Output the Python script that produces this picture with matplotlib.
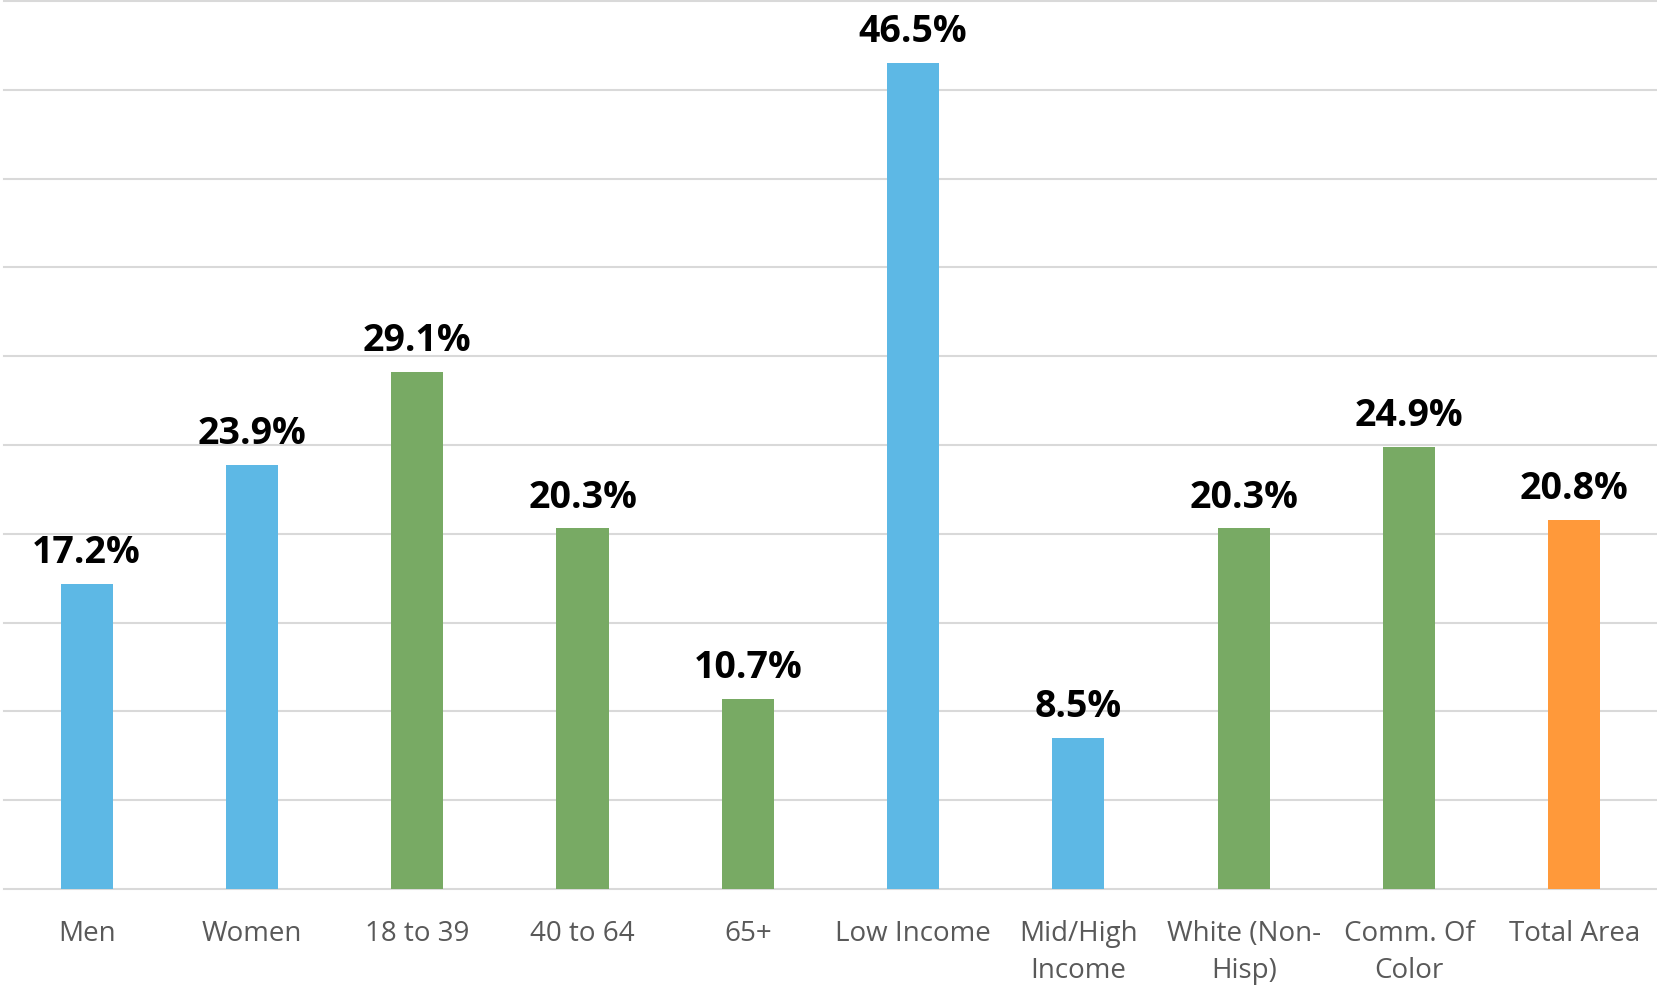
import matplotlib
matplotlib.use("Agg")
import matplotlib.pyplot as plt

plt.rcParams['font.family'] = ['Open Sans', 'DejaVu Sans']

categories = ['Men', 'Women', '18 to 39', '40 to 64', '65+', 'Low Income',
              'Mid/High\nIncome', 'White (Non-\nHisp)', 'Comm. Of\nColor', 'Total Area']
values = [17.2, 23.9, 29.1, 20.3, 10.7, 46.5, 8.5, 20.3, 24.9, 20.8]
groups = ['blue', 'blue', 'green', 'green', 'green', 'blue', 'blue', 'green', 'green', 'orange']

palette = {'blue': '#5DB8E5', 'green': '#78AA64', 'orange': '#FF993A'}
colors = [palette[g] for g in groups]

fig = plt.figure(figsize=(16.57, 9.86), dpi=100)
ax = fig.add_axes([0.0024, 0.0984, 0.9976, 0.9006])

x = range(len(categories))
bars = ax.bar(x, values, width=0.315, color=colors, zorder=3)

# bold value labels above each bar
for xi, v in zip(x, values):
    ax.annotate('%.1f%%' % v, (xi, v), xytext=(0, 15), textcoords='offset points',
                ha='center', va='baseline', fontsize=27, fontweight='bold', color='black')

ax.set_xlim(-0.5, len(categories) - 0.5)
ax.set_ylim(0, 50)
ax.set_yticks(range(0, 55, 5))
ax.yaxis.grid(True, color='#D9D9D9', linewidth=1.5, zorder=0)
ax.tick_params(axis='y', left=False, labelleft=False)
ax.set_xticks(list(x))
ax.set_xticklabels(categories, fontsize=20, color='#595959', linespacing=1.45)
ax.tick_params(axis='x', length=0, pad=22)
for s in ['top', 'right', 'left', 'bottom']:
    ax.spines[s].set_visible(False)
for gl in ax.get_ygridlines():
    gl.set_clip_on(False)

fig.savefig('out.png', dpi=100)
